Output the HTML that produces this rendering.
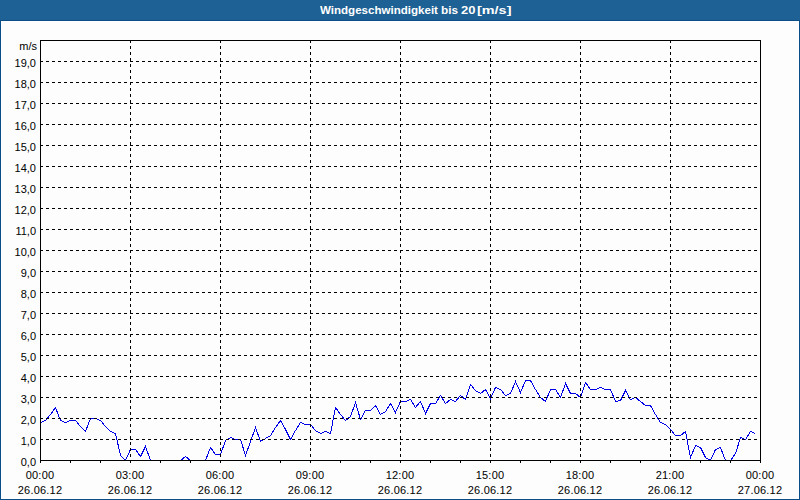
<!DOCTYPE html>
<html><head><meta charset="utf-8">
<style>
html,body{margin:0;padding:0;}
body{width:800px;height:500px;position:relative;overflow:hidden;background:#fcfdfc;font-family:"Liberation Sans",sans-serif;}
#frame{position:absolute;left:0;top:20px;width:798px;height:478px;border:1px solid #0b4d86;}
#inner{position:absolute;left:1px;top:21px;width:798px;height:478px;border-left:1px solid #fff;border-top:1px solid #fff;border-right:1px solid #fff;border-bottom:1px solid #fff;box-sizing:border-box;}
#hdr{position:absolute;left:0;top:0;width:800px;height:20px;background:#1e6194;}
#hdrb{position:absolute;left:0;top:20px;width:800px;height:1px;background:#0b4d86;}
.tw{position:absolute;top:3px;color:#fff;font-weight:bold;font-size:11px;line-height:14px;white-space:nowrap;transform-origin:0 0;}
svg{position:absolute;left:0;top:0;}
#labels{position:absolute;left:0;top:0;width:800px;height:500px;}
.d{stroke:#000;stroke-width:1;stroke-dasharray:3 3;shape-rendering:crispEdges;}
.s{stroke:#000;stroke-width:1;shape-rendering:crispEdges;}
.yl{position:absolute;right:764px;font-size:11px;line-height:12px;color:#000;white-space:nowrap;text-align:right;}
.xl{position:absolute;width:80px;text-align:center;font-size:11px;letter-spacing:0.2px;line-height:12px;color:#000;white-space:nowrap;}
#unit{position:absolute;right:763px;top:40px;font-size:11px;line-height:12px;}
</style></head><body>
<div id="hdr"></div>
<div id="frame"></div>
<div id="inner"></div>
<div class="tw" style="left:320px;transform:scaleX(1.05)">Windgeschwindigkeit</div><div class="tw" style="left:441px;transform:scaleX(1.07)">bis</div><div class="tw" style="left:461px;transform:scaleX(1.18)">20</div><div class="tw" style="left:477px;transform:scaleX(1.31)">[m/s]</div>
<svg width="800" height="500" viewBox="0 0 800 500">
<polyline points="40.5,422.5 45.5,420.5 50.5,414.5 55.5,407.5 60.5,420.5 65.5,422.5 70.5,420.5 75.5,420.5 80.5,426.5 85.5,431.5 90.5,418.5 95.5,418.5 100.5,420.5 105.5,426.5 110.5,431.5 115.5,433.5 120.5,455.5 125.5,460.5 130.5,449.5 135.5,449.5 140.5,456.5 145.5,446.5 150.5,460.5 155.5,460.5 160.5,460.5 165.5,460.5 170.5,460.5 175.5,460.5 180.5,460.5 185.5,456.5 190.5,460.5 195.5,460.5 200.5,460.5 205.5,460.5 210.5,447.5 215.5,454.5 220.5,454.5 225.5,440.5 230.5,437.5 235.5,439.5 240.5,439.5 245.5,455.5 250.5,441.5 255.5,427.5 260.5,441.5 265.5,438.5 270.5,435.5 275.5,427.5 280.5,420.5 285.5,429.5 290.5,439.5 295.5,430.5 300.5,422.5 305.5,424.5 310.5,424.5 315.5,430.5 320.5,433.5 325.5,431.5 330.5,433.5 335.5,407.5 340.5,414.5 345.5,420.5 350.5,416.5 355.5,402.5 360.5,419.5 365.5,410.5 370.5,410.5 375.5,405.5 380.5,414.5 385.5,411.5 390.5,403.5 395.5,412.5 400.5,401.5 405.5,401.5 410.5,399.5 415.5,407.5 420.5,401.5 425.5,413.5 430.5,403.5 435.5,403.5 440.5,395.5 445.5,403.5 450.5,399.5 455.5,401.5 460.5,395.5 465.5,399.5 470.5,384.5 475.5,390.5 480.5,393.5 485.5,389.5 490.5,398.5 495.5,387.5 500.5,389.5 505.5,395.5 510.5,393.5 515.5,381.5 520.5,392.5 525.5,380.5 530.5,380.5 535.5,389.5 540.5,397.5 545.5,401.5 550.5,389.5 555.5,389.5 560.5,397.5 565.5,383.5 570.5,393.5 575.5,393.5 580.5,397.5 585.5,382.5 590.5,389.5 595.5,389.5 600.5,387.5 605.5,389.5 610.5,389.5 615.5,401.5 620.5,400.5 625.5,390.5 630.5,399.5 635.5,397.5 640.5,401.5 645.5,405.5 650.5,405.5 655.5,414.5 660.5,422.5 665.5,424.5 670.5,429.5 675.5,435.5 680.5,435.5 685.5,431.5 690.5,457.5 695.5,445.5 700.5,447.5 705.5,457.5 710.5,460.5 715.5,449.5 720.5,447.5 725.5,460.5 730.5,460.5 735.5,453.5 740.5,437.5 745.5,439.5 750.5,431.5 755.5,433.5" fill="none" stroke="#0000e6" stroke-width="1" shape-rendering="crispEdges"/>
<line x1="40" y1="439.5" x2="760" y2="439.5" class="d"/>
<line x1="40" y1="418.5" x2="760" y2="418.5" class="d"/>
<line x1="40" y1="397.5" x2="760" y2="397.5" class="d"/>
<line x1="40" y1="376.5" x2="760" y2="376.5" class="d"/>
<line x1="40" y1="355.5" x2="760" y2="355.5" class="d"/>
<line x1="40" y1="334.5" x2="760" y2="334.5" class="d"/>
<line x1="40" y1="313.5" x2="760" y2="313.5" class="d"/>
<line x1="40" y1="292.5" x2="760" y2="292.5" class="d"/>
<line x1="40" y1="271.5" x2="760" y2="271.5" class="d"/>
<line x1="40" y1="250.5" x2="760" y2="250.5" class="d"/>
<line x1="40" y1="229.5" x2="760" y2="229.5" class="d"/>
<line x1="40" y1="208.5" x2="760" y2="208.5" class="d"/>
<line x1="40" y1="187.5" x2="760" y2="187.5" class="d"/>
<line x1="40" y1="166.5" x2="760" y2="166.5" class="d"/>
<line x1="40" y1="145.5" x2="760" y2="145.5" class="d"/>
<line x1="40" y1="124.5" x2="760" y2="124.5" class="d"/>
<line x1="40" y1="103.5" x2="760" y2="103.5" class="d"/>
<line x1="40" y1="82.5" x2="760" y2="82.5" class="d"/>
<line x1="40" y1="61.5" x2="760" y2="61.5" class="d"/>
<line x1="130.5" y1="40" x2="130.5" y2="460" class="d"/>
<line x1="220.5" y1="40" x2="220.5" y2="460" class="d"/>
<line x1="310.5" y1="40" x2="310.5" y2="460" class="d"/>
<line x1="400.5" y1="40" x2="400.5" y2="460" class="d"/>
<line x1="490.5" y1="40" x2="490.5" y2="460" class="d"/>
<line x1="580.5" y1="40" x2="580.5" y2="460" class="d"/>
<line x1="670.5" y1="40" x2="670.5" y2="460" class="d"/>
<rect x="40.5" y="40.5" width="720" height="420" fill="none" stroke="#000" stroke-width="1" shape-rendering="crispEdges"/>
<line x1="40.5" y1="460" x2="40.5" y2="463" class="s"/>
<line x1="70.5" y1="460" x2="70.5" y2="463" class="s"/>
<line x1="100.5" y1="460" x2="100.5" y2="463" class="s"/>
<line x1="130.5" y1="460" x2="130.5" y2="463" class="s"/>
<line x1="160.5" y1="460" x2="160.5" y2="463" class="s"/>
<line x1="190.5" y1="460" x2="190.5" y2="463" class="s"/>
<line x1="220.5" y1="460" x2="220.5" y2="463" class="s"/>
<line x1="250.5" y1="460" x2="250.5" y2="463" class="s"/>
<line x1="280.5" y1="460" x2="280.5" y2="463" class="s"/>
<line x1="310.5" y1="460" x2="310.5" y2="463" class="s"/>
<line x1="340.5" y1="460" x2="340.5" y2="463" class="s"/>
<line x1="370.5" y1="460" x2="370.5" y2="463" class="s"/>
<line x1="400.5" y1="460" x2="400.5" y2="463" class="s"/>
<line x1="430.5" y1="460" x2="430.5" y2="463" class="s"/>
<line x1="460.5" y1="460" x2="460.5" y2="463" class="s"/>
<line x1="490.5" y1="460" x2="490.5" y2="463" class="s"/>
<line x1="520.5" y1="460" x2="520.5" y2="463" class="s"/>
<line x1="550.5" y1="460" x2="550.5" y2="463" class="s"/>
<line x1="580.5" y1="460" x2="580.5" y2="463" class="s"/>
<line x1="610.5" y1="460" x2="610.5" y2="463" class="s"/>
<line x1="640.5" y1="460" x2="640.5" y2="463" class="s"/>
<line x1="670.5" y1="460" x2="670.5" y2="463" class="s"/>
<line x1="700.5" y1="460" x2="700.5" y2="463" class="s"/>
<line x1="730.5" y1="460" x2="730.5" y2="463" class="s"/>
<line x1="760.5" y1="460" x2="760.5" y2="463" class="s"/>
</svg>
<div id="labels">
<div id="unit">m/s</div>
<div class="yl" style="top:456px">0,0</div>
<div class="yl" style="top:435px">1,0</div>
<div class="yl" style="top:414px">2,0</div>
<div class="yl" style="top:393px">3,0</div>
<div class="yl" style="top:372px">4,0</div>
<div class="yl" style="top:351px">5,0</div>
<div class="yl" style="top:330px">6,0</div>
<div class="yl" style="top:309px">7,0</div>
<div class="yl" style="top:288px">8,0</div>
<div class="yl" style="top:267px">9,0</div>
<div class="yl" style="top:246px">10,0</div>
<div class="yl" style="top:225px">11,0</div>
<div class="yl" style="top:204px">12,0</div>
<div class="yl" style="top:183px">13,0</div>
<div class="yl" style="top:162px">14,0</div>
<div class="yl" style="top:141px">15,0</div>
<div class="yl" style="top:120px">16,0</div>
<div class="yl" style="top:99px">17,0</div>
<div class="yl" style="top:78px">18,0</div>
<div class="yl" style="top:57px">19,0</div>
<div class="xl" style="left:0px;top:469px">00:00</div><div class="xl" style="left:0px;top:484px">26.06.12</div>
<div class="xl" style="left:90px;top:469px">03:00</div><div class="xl" style="left:90px;top:484px">26.06.12</div>
<div class="xl" style="left:180px;top:469px">06:00</div><div class="xl" style="left:180px;top:484px">26.06.12</div>
<div class="xl" style="left:270px;top:469px">09:00</div><div class="xl" style="left:270px;top:484px">26.06.12</div>
<div class="xl" style="left:360px;top:469px">12:00</div><div class="xl" style="left:360px;top:484px">26.06.12</div>
<div class="xl" style="left:450px;top:469px">15:00</div><div class="xl" style="left:450px;top:484px">26.06.12</div>
<div class="xl" style="left:540px;top:469px">18:00</div><div class="xl" style="left:540px;top:484px">26.06.12</div>
<div class="xl" style="left:630px;top:469px">21:00</div><div class="xl" style="left:630px;top:484px">26.06.12</div>
<div class="xl" style="left:720px;top:469px">00:00</div><div class="xl" style="left:720px;top:484px">27.06.12</div>
</div>
</body></html>
